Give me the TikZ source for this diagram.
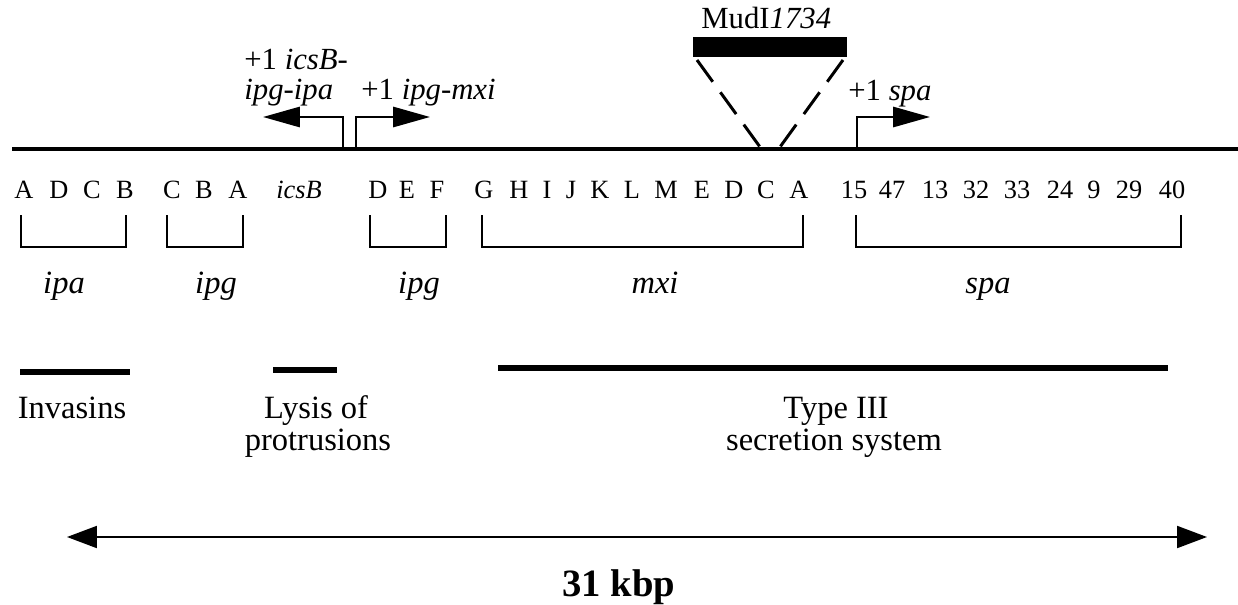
\documentclass[tikz,border=0pt]{standalone}
\usepackage{fontspec}
\setmainfont{Liberation Serif}
\usetikzlibrary{arrows.meta}
\begin{document}
\begin{tikzpicture}[x=0.02cm,y=-0.02cm,
  gene/.style={font=\fontsize{15}{18}\selectfont, anchor=base, inner sep=0pt},
  lab/.style={font=\fontsize{18.5}{22}\selectfont, anchor=base, inner sep=0pt},
  toplab/.style={font=\fontsize{17.5}{21}\selectfont, anchor=base west, inner sep=0pt},
  brk/.style={line width=1.1pt},
  bar/.style={line width=3.3pt},
  prom/.style={line width=1.3pt, -{Triangle[length=21pt,width=11.5pt]}},
  dna/.style={line width=2.4pt},
  insert/.style={line width=1.7pt, dash pattern=on 15.3pt off 7.4pt},
  span/.style={line width=1.1pt, {Triangle[length=17pt,width=12.5pt]}-{Triangle[length=17pt,width=12.5pt]}}
]
\useasboundingbox (0,0) rectangle (1238,605);

% DNA line
\coordinate (dnaL) at (12,149);
\coordinate (dnaR) at (1238,149);
\draw[dna] (dnaL) -- (dnaR);

% promoters
\coordinate (pA) at (343,149); \coordinate (tA) at (263,117);
\coordinate (pB) at (356,149); \coordinate (tB) at (430,117);
\coordinate (pC) at (857,149); \coordinate (tC) at (930,117);
\draw[prom] (pA) |- (tA);
\draw[prom] (pB) |- (tB);
\draw[prom] (pC) |- (tC);

\node[toplab] (t1) at (244,70) {+1 \textit{icsB}-};
\node[toplab] (t2) at (244,99) {\textit{ipg-ipa}};
\node[toplab] (t3) at (361,99) {+1 \textit{ipg-mxi}};
\node[toplab] (t4) at (848,100) {+1 \textit{spa}};

% MudI insertion
\node[toplab] (mud) at (701,29) {MudI\textit{1734}};
\fill (693,37) rectangle (847,57);
\coordinate (mL) at (697,60); \coordinate (mLb) at (760,147);
\coordinate (mR) at (843,60); \coordinate (mRb) at (780,147);
\draw[insert] (mL) -- (mLb);
\draw[insert] (mR) -- (mRb);

% gene letters
\foreach \x/\t [count=\i] in {24/A,59/D,92/C,125/B,172/C,204/B,238/A,299/\textit{icsB},378/D,407/E,437/F,
  484/G,519/H,547/I,571/J,600/K,632/L,666/M,702/E,734/D,766/C,799/A,
  854/15,892/47,935/13,976/32,1017/33,1060/24,1094/9,1129/29,1172/40}
  \node[gene] (g\i) at (\x,198) {\t};

% brackets
\foreach \a/\b/\n in {21/126/ipa,167/243/ipgA,370/446/ipgB,482/803/mxi,856/1181/spa}{
  \coordinate (\n L) at (\a,215);
  \coordinate (\n R) at (\b,215);
  \draw[brk] (\n L) -- ++(0,32) -| (\n R);
}
\node[lab] (lipa) at (64,293) {\textit{ipa}};
\node[lab] (lipgA) at (216,293) {\textit{ipg}};
\node[lab] (lipgB) at (419,293) {\textit{ipg}};
\node[lab] (lmxi) at (655,293) {\textit{mxi}};
\node[lab] (lspa) at (988,293) {\textit{spa}};

% function bars
\coordinate (f1a) at (20,372); \coordinate (f1b) at (130,372);
\coordinate (f2a) at (273,370); \coordinate (f2b) at (337,370);
\coordinate (f3a) at (498,368); \coordinate (f3b) at (1168,368);
\draw[bar] (f1a) -- (f1b);
\draw[bar] (f2a) -- (f2b);
\draw[bar] (f3a) -- (f3b);

\node[lab] (inv) at (72,418) {Invasins};
\node[lab] (lys1) at (316,418) {Lysis of};
\node[lab] (lys2) at (318,450) {protrusions};
\node[lab] (tt1) at (836,418) {Type III};
\node[lab] (tt2) at (834,450) {secretion system};

% scale
\coordinate (sL) at (67,537);
\coordinate (sR) at (1207,537);
\draw[span] (sL) -- (sR);
\node[anchor=base, inner sep=0pt, font=\fontsize{22}{26}\selectfont\bfseries] (kbp) at (619,596) {31 kbp};
\end{tikzpicture}
\end{document}
